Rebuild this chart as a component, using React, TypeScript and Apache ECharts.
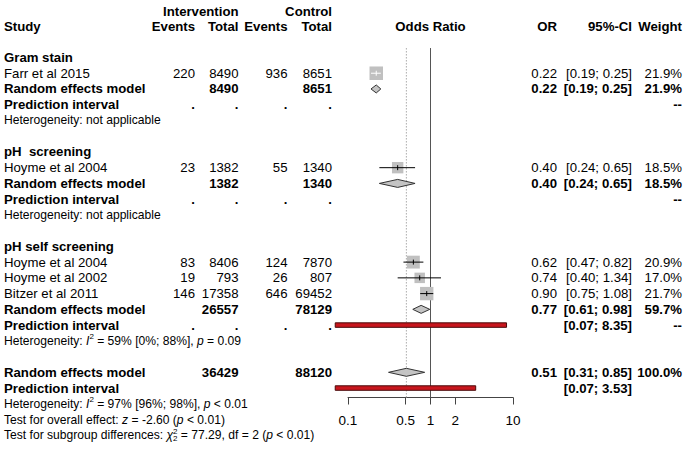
import React, { useEffect, useRef } from "react";
import * as echarts from "echarts";

// ---------- data ----------
const groupNames = ["Gram stain", "pH  screening", "pH self screening"];
const studyNames = ["Farr et al 2015", "Hoyme et al 2004", "Hoyme et al 2004", "Hoyme et al 2002", "Bitzer et al 2011"];
const studyGroup = [0, 1, 2, 2, 2];
const eventsI = [220, 23, 83, 19, 146];
const totalI = [8490, 1382, 8406, 793, 17358];
const eventsC = [936, 55, 124, 26, 646];
const totalC = [8651, 1340, 7870, 807, 69452];
const studyOR = [0.22, 0.4, 0.62, 0.74, 0.9];
const studyLo = [0.19, 0.24, 0.47, 0.4, 0.75];
const studyHi = [0.25, 0.65, 0.82, 1.34, 1.08];
const studyWeight = [21.9, 18.5, 20.9, 17.0, 21.7];

const subTotalI = [8490, 1382, 26557];
const subTotalC = [8651, 1340, 78129];
const subOR = [0.22, 0.4, 0.77];
const subLo = [0.19, 0.24, 0.61];
const subHi = [0.25, 0.65, 0.98];
const subWeight = [21.9, 18.5, 59.7];
const subPILo: (number | null)[] = [null, null, 0.07];
const subPIHi: (number | null)[] = [null, null, 8.35];
const subHetI2: (string | null)[] = [null, null, "59% [0%; 88%]"];
const subHetP: (string | null)[] = [null, null, "= 0.09"];

const overallTotalI = 36429;
const overallTotalC = 88120;
const overallOR = 0.51;
const overallLo = 0.31;
const overallHi = 0.85;
const overallWeight = 100.0;
const overallPILo = 0.07;
const overallPIHi = 3.53;
const overallHetI2 = "97% [96%; 98%]";
const overallHetP = "< 0.01";
const overallZ = "-2.60";
const overallZP = "< 0.01";
const subgroupChi2 = "77.29";
const subgroupDf = "2";
const subgroupP = "< 0.01";

const axisTicks = [0.1, 0.5, 1, 2, 10];

// ---------- row layout ----------
const studyRow: number[] = [];
const groupRow: number[] = [];
const remRow: number[] = [];
const piRow: number[] = [];
const hetRow: number[] = [];
let rr = 2;
groupNames.forEach((_, g) => {
  groupRow[g] = rr++;
  studyGroup.forEach((sg, i) => {
    if (sg === g) studyRow[i] = rr++;
  });
  remRow[g] = rr++;
  piRow[g] = rr++;
  hetRow[g] = rr++;
  rr++;
});
const overallRow = rr;
const overallPIRow = rr + 1;
const overallHetRow = rr + 2;
const testRow = rr + 3;
const subgroupTestRow = rr + 4;

// ---------- text helpers ----------
const FONT = "'Liberation Sans', Arial, Helvetica, sans-serif";
const MAIN = 13.2;
const SMALL = 12.1;
let ctx: CanvasRenderingContext2D | null = null;
function measure(t: string, size: number, bold?: boolean, italic?: boolean) {
  if (!ctx) ctx = document.createElement("canvas").getContext("2d");
  ctx!.font = `${italic ? "italic " : ""}${bold ? "bold " : ""}${size}px ${FONT}`;
  return ctx!.measureText(t).width;
}
function txt(x: number, y: number, t: string, o: { size?: number; bold?: boolean; italic?: boolean; align?: string } = {}) {
  const align = o.align || "left";
  return {
    type: "text",
    x,
    y,
    silent: true,
    style: {
      text: t,
      fontSize: o.size || MAIN,
      fontFamily: FONT,
      fontWeight: o.bold ? "bold" : "normal",
      fontStyle: o.italic ? "italic" : "normal",
      fill: "#000",
      align,
      textAlign: align,
      verticalAlign: "middle",
      textVerticalAlign: "middle",
    },
  };
}
type Seg = { t: string; size?: number; bold?: boolean; italic?: boolean; dy?: number; noAdvance?: boolean };
function segLine(x: number, y: number, segs: Seg[], base: number) {
  let cx = x;
  const els: any[] = [];
  segs.forEach((s) => {
    const size = s.size ?? base;
    els.push(txt(cx, y + (s.dy ?? 0), s.t, { size, bold: s.bold, italic: s.italic }));
    if (!s.noAdvance) cx += measure(s.t, size, s.bold, s.italic);
  });
  return els;
}
const f2 = (v: number) => v.toFixed(2);
const ci = (lo: number, hi: number) => `[${f2(lo)}; ${f2(hi)}]`;
const pct = (w: number) => `${w.toFixed(1)}%`;

// column positions
const X_NAME = 4;
const X_EI = 195;
const X_TI = 238.5;
const X_EC = 287.5;
const X_TC = 332;
const X_OR = 557;
const X_CI = 632;
const X_W = 682;

function buildText(rowY: (r: number) => number, xOne: number) {
  const els: any[] = [];
  const R = (x: number, r: number, t: string, bold?: boolean) => els.push(txt(x, rowY(r), t, { bold, align: "right" }));
  // header
  els.push(txt(X_TI, rowY(-0.93), "Intervention", { bold: true, align: "right" }));
  els.push(txt(X_TC, rowY(-0.93), "Control", { bold: true, align: "right" }));
  els.push(txt(X_NAME, rowY(0), "Study", { bold: true }));
  R(X_EI, 0, "Events", true);
  R(X_TI, 0, "Total", true);
  R(X_EC, 0, "Events", true);
  R(X_TC, 0, "Total", true);
  els.push(txt(xOne, rowY(0), "Odds Ratio", { bold: true, align: "center" }));
  R(X_OR, 0, "OR", true);
  R(X_CI, 0, "95%-CI", true);
  R(X_W, 0, "Weight", true);

  groupNames.forEach((gname, g) => {
    els.push(txt(X_NAME, rowY(groupRow[g]), gname, { bold: true }));
    studyNames.forEach((sname, i) => {
      if (studyGroup[i] !== g) return;
      const r = studyRow[i];
      els.push(txt(X_NAME, rowY(r), sname));
      R(X_EI, r, String(eventsI[i]));
      R(X_TI, r, String(totalI[i]));
      R(X_EC, r, String(eventsC[i]));
      R(X_TC, r, String(totalC[i]));
      R(X_OR, r, f2(studyOR[i]));
      R(X_CI, r, ci(studyLo[i], studyHi[i]));
      R(X_W, r, pct(studyWeight[i]));
    });
    const r = remRow[g];
    els.push(txt(X_NAME, rowY(r), "Random effects model", { bold: true }));
    R(X_TI, r, String(subTotalI[g]), true);
    R(X_TC, r, String(subTotalC[g]), true);
    R(X_OR, r, f2(subOR[g]), true);
    R(X_CI, r, ci(subLo[g], subHi[g]), true);
    R(X_W, r, pct(subWeight[g]), true);
    const p = piRow[g];
    els.push(txt(X_NAME, rowY(p), "Prediction interval", { bold: true }));
    [X_EI, X_TI, X_EC, X_TC].forEach((x) => R(x, p, ".", true));
    if (subPILo[g] != null) R(X_CI, p, ci(subPILo[g]!, subPIHi[g]!), true);
    R(X_W, p, "--", true);
    const h = hetRow[g];
    if (subHetI2[g] == null) {
      els.push(txt(X_NAME, rowY(h), "Heterogeneity: not applicable", { size: SMALL }));
    } else {
      els.push(
        ...segLine(X_NAME, rowY(h), [
          { t: "Heterogeneity: " },
          { t: "I", italic: true },
          { t: "2", size: 8, dy: -4 },
          { t: ` = ${subHetI2[g]}, ` },
          { t: "p", italic: true },
          { t: ` ${subHetP[g]}` },
        ], SMALL)
      );
    }
  });

  // overall
  els.push(txt(X_NAME, rowY(overallRow), "Random effects model", { bold: true }));
  R(X_TI, overallRow, String(overallTotalI), true);
  R(X_TC, overallRow, String(overallTotalC), true);
  R(X_OR, overallRow, f2(overallOR), true);
  R(X_CI, overallRow, ci(overallLo, overallHi), true);
  R(X_W, overallRow, pct(overallWeight), true);
  els.push(txt(X_NAME, rowY(overallPIRow), "Prediction interval", { bold: true }));
  R(X_CI, overallPIRow, ci(overallPILo, overallPIHi), true);
  els.push(
    ...segLine(X_NAME, rowY(overallHetRow), [
      { t: "Heterogeneity: " },
      { t: "I", italic: true },
      { t: "2", size: 8, dy: -4 },
      { t: ` = ${overallHetI2}, ` },
      { t: "p", italic: true },
      { t: ` ${overallHetP}` },
    ], SMALL)
  );
  els.push(
    ...segLine(X_NAME, rowY(testRow), [
      { t: "Test for overall effect: " },
      { t: "z", italic: true },
      { t: ` = ${overallZ} (` },
      { t: "p", italic: true },
      { t: ` ${overallZP})` },
    ], SMALL)
  );
  els.push(
    ...segLine(X_NAME, rowY(subgroupTestRow), [
      { t: "Test for subgroup differences: " },
      { t: "\u03c7", italic: true },
      { t: "2", size: 8, dy: -4, noAdvance: true },
      { t: "2", size: 8, dy: 3.5 },
      { t: ` = ${subgroupChi2}, df = ${subgroupDf} (` },
      { t: "p", italic: true },
      { t: ` ${subgroupP})` },
    ], SMALL)
  );
  return els;
}

// ---------- series data ----------
const studyData = studyNames.map((_, i) => [studyOR[i], studyRow[i], studyLo[i], studyHi[i], studyWeight[i]]);
const diamondData = [
  ...groupNames.map((_, g) => [subOR[g], remRow[g], subLo[g], subHi[g]]),
  [overallOR, overallRow, overallLo, overallHi],
];
const piData: number[][] = [];
groupNames.forEach((_, g) => {
  if (subPILo[g] != null) piData.push([subPILo[g]!, piRow[g], subPIHi[g]!]);
});
piData.push([overallPILo, overallPIRow, overallPIHi]);

const Y_MIN = 0;
const Y_MAX = 23.6;
const LINE_TOP = 1.4;

export default function App() {
  const ref = useRef<HTMLDivElement>(null);
  useEffect(() => {
    const chart = echarts.init(ref.current!, null, { renderer: "svg" });
    chart.setOption({
      animation: false,
      grid: { left: 348, width: 165, top: 26, height: 371.5, containLabel: false, outerBoundsMode: "none" },
      xAxis: {
        type: "log",
        logBase: 10,
        min: 0.1,
        max: 10,
        position: "bottom",
        axisLine: { show: true, onZero: false, lineStyle: { color: "#444", width: 1 } },
        axisTick: { show: true, customValues: axisTicks, length: 7, lineStyle: { color: "#444" } },
        axisLabel: {
          customValues: axisTicks,
          margin: 16,
          fontSize: 13.5,
          fontFamily: FONT,
          color: "#000",
          formatter: (v: number) => String(Math.round(v * 100) / 100),
        },
        splitLine: { show: false },
        minorTick: { show: false },
      },
      yAxis: { type: "value", inverse: true, min: Y_MIN, max: Y_MAX, show: false, splitLine: { show: false } },
      series: [
        {
          type: "line",
          symbol: "none",
          z: 1,
          data: [[1, LINE_TOP], [1, Y_MAX]],
          lineStyle: { color: "#555", width: 1 },
        },
        {
          type: "line",
          symbol: "none",
          z: 1,
          data: [[overallOR, LINE_TOP], [overallOR, Y_MAX]],
          lineStyle: { color: "#aaa", width: 1, type: [1.5, 1.5] },
        },
        {
          type: "custom",
          z: 3,
          data: studyData,
          encode: { x: [0, 2, 3], y: 1 },
          renderItem: (params: any, api: any) => {
            const r = api.value(1);
            const c = api.coord([api.value(0), r]);
            const lo = api.coord([api.value(2), r]);
            const hi = api.coord([api.value(3), r]);
            const side = (13.5 * api.value(4)) / 21.9;
            const inside = lo[0] >= c[0] - side / 2 + 1 && hi[0] <= c[0] + side / 2 - 1;
            const col = inside ? "#fff" : "#000";
            return {
              type: "group",
              children: [
                { type: "rect", shape: { x: c[0] - side / 2, y: c[1] - side / 2, width: side, height: side }, style: { fill: "#c0c0c0" } },
                { type: "line", shape: { x1: lo[0], y1: c[1], x2: hi[0], y2: c[1] }, style: { stroke: col, lineWidth: 1 } },
                { type: "line", shape: { x1: c[0], y1: c[1] - 2.5, x2: c[0], y2: c[1] + 2.5 }, style: { stroke: col, lineWidth: 1 } },
              ],
            };
          },
        },
        {
          type: "custom",
          z: 3,
          data: diamondData,
          encode: { x: [0, 2, 3], y: 1 },
          renderItem: (params: any, api: any) => {
            const r = api.value(1);
            const c = api.coord([api.value(0), r]);
            const lo = api.coord([api.value(2), r]);
            const hi = api.coord([api.value(3), r]);
            const h = 4;
            return {
              type: "polygon",
              shape: { points: [[lo[0], c[1]], [c[0], c[1] - h], [hi[0], c[1]], [c[0], c[1] + h]] },
              style: { fill: "#c4c4c4", stroke: "#333", lineWidth: 1 },
            };
          },
        },
        {
          type: "custom",
          z: 3,
          data: piData,
          encode: { x: [0, 2], y: 1 },
          renderItem: (params: any, api: any) => {
            const r = api.value(1);
            const lo = api.coord([api.value(0), r]);
            const hi = api.coord([api.value(2), r]);
            const h = 4.5;
            return {
              type: "rect",
              shape: { x: lo[0], y: lo[1] - h / 2, width: hi[0] - lo[0], height: h },
              style: { fill: "#c8161d", stroke: "#4a0a0a", lineWidth: 1 },
            };
          },
        },
      ],
    });
    const rowY = (r: number) => chart.convertToPixel({ yAxisIndex: 0 } as any, r) as unknown as number;
    const xOne = chart.convertToPixel({ xAxisIndex: 0 } as any, 1) as unknown as number;
    chart.setOption({ graphic: { elements: buildText(rowY, xOne) } });
    return () => chart.dispose();
  }, []);
  return <div ref={ref} style={{ position: "absolute", left: 0, top: 0, width: 685, height: 449 }} />;
}
